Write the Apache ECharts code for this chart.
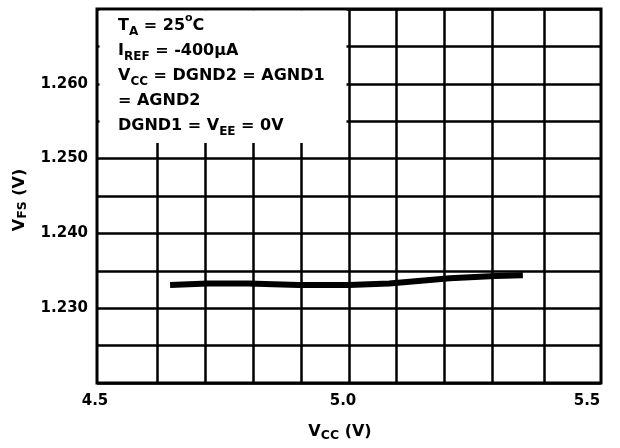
<!DOCTYPE html>
<html><head><meta charset="utf-8">
<script src="https://cdn.jsdelivr.net/npm/echarts@6/dist/echarts.min.js"></script>
<style>html,body{margin:0;padding:0;background:#fff}#c{width:620px;height:448px}</style>
</head><body><div id="c"></div>
<script>
// ---- data ----
const vcc = [4.645, 4.72, 4.80, 4.90, 5.00, 5.08, 5.20, 5.29, 5.345];
const vfs = [1.2331, 1.2333, 1.2333, 1.2331, 1.2331, 1.2333, 1.2340, 1.2343, 1.2344];
const xTickLabels = [4.5, 5.0, 5.5];
const xGridLines = [4.619, 4.714, 4.810, 4.905, 5.0, 5.093, 5.188, 5.284, 5.387];
const yTickLabels = [1.23, 1.24, 1.25, 1.26];
const noteLines = [
  '{m|T}{s|A}{m| = 25}{u|o}{m|C}',
  '{m|I}{s|REF}{m| = -400µA}',
  '{m|V}{s|CC}{m| = DGND2 = AGND1}',
  '{m|= AGND2}',
  '{m|DGND1 = V}{s|EE}{m| = 0V}'
];
const xName = '{m|V}{s|CC}{m| (V)}';
const yName = '{m|V}{s|FS}{m| (V)}';

// ---- chart ----
const FONT = 'DejaVu Sans';
const xLabelPad = [4, 12, 28];
const chart = echarts.init(document.getElementById('c'), null, {renderer: 'canvas'});
const nameRich = {
  m: {fontFamily: FONT, fontWeight: 'bold', fontSize: 16, lineHeight: 20, color: '#000'},
  s: {fontFamily: FONT, fontWeight: 'bold', fontSize: 12.5, lineHeight: 12, verticalAlign: 'bottom', color: '#000'}
};
const xRich = {};
xLabelPad.forEach((p, i) => {
  xRich['p' + i] = {fontFamily: FONT, fontWeight: 'bold', fontSize: 15, color: '#000', padding: [0, p, 0, 0]};
});

chart.setOption({
  animation: false,
  backgroundColor: '#fff',
  grid: {left: 97, right: 19, top: 9, bottom: 65, show: true, borderColor: '#000', borderWidth: 3, backgroundColor: 'transparent'},
  xAxis: {
    type: 'value', min: 4.5, max: 5.5,
    axisLine: {show: false},
    axisTick: {show: false, customValues: xGridLines},
    splitLine: {show: true, lineStyle: {color: '#000', width: 2.5}},
    axisLabel: {
      customValues: xTickLabels, margin: 11,
      formatter: v => {
        const i = xTickLabels.findIndex(t => Math.abs(t - v) < 1e-6);
        return '{p' + i + '|' + v.toFixed(1) + '}';
      },
      rich: xRich
    },
    name: xName, nameLocation: 'middle', nameGap: 39,
    nameTextStyle: {rich: nameRich, padding: [0, 18, 0, 0]}
  },
  yAxis: {
    type: 'value', min: 1.22, max: 1.27, interval: 0.005,
    axisLine: {show: false},
    axisTick: {show: false},
    splitLine: {show: true, lineStyle: {color: '#000', width: 2.5}},
    axisLabel: {
      customValues: yTickLabels, margin: 9,
      fontFamily: FONT, fontWeight: 'bold', fontSize: 15, color: '#000',
      formatter: v => v.toFixed(3)
    },
    name: yName, nameLocation: 'middle', nameRotate: 90, nameGap: 66,
    nameTextStyle: {rich: nameRich, padding: [0, 8, 0, 0]}
  },
  series: [{
    type: 'line',
    data: vcc.map((x, i) => [x, vfs[i]]),
    symbol: 'none',
    lineStyle: {color: '#000', width: 6, cap: 'butt'},
    z: 5
  }],
  graphic: [
    {type: 'rect', z: 100, shape: {x: 99.5, y: 10.5, width: 247, height: 132.5}, style: {fill: '#fff'}},
    {type: 'text', z: 101, x: 118, y: 13, style: {
      text: noteLines.join('\n'),
      align: 'left', verticalAlign: 'top',
      fontFamily: FONT, fontWeight: 'bold', fontSize: 16, fill: '#000',
      rich: {
        m: {fontFamily: FONT, fontWeight: 'bold', fontSize: 16, lineHeight: 25, fill: '#000'},
        s: {fontFamily: FONT, fontWeight: 'bold', fontSize: 12, lineHeight: 15.6, verticalAlign: 'bottom', fill: '#000'},
        u: {fontFamily: FONT, fontWeight: 'bold', fontSize: 11, lineHeight: 17, verticalAlign: 'top', fill: '#000'}
      }
    }}
  ]
});
</script>
</body></html>
